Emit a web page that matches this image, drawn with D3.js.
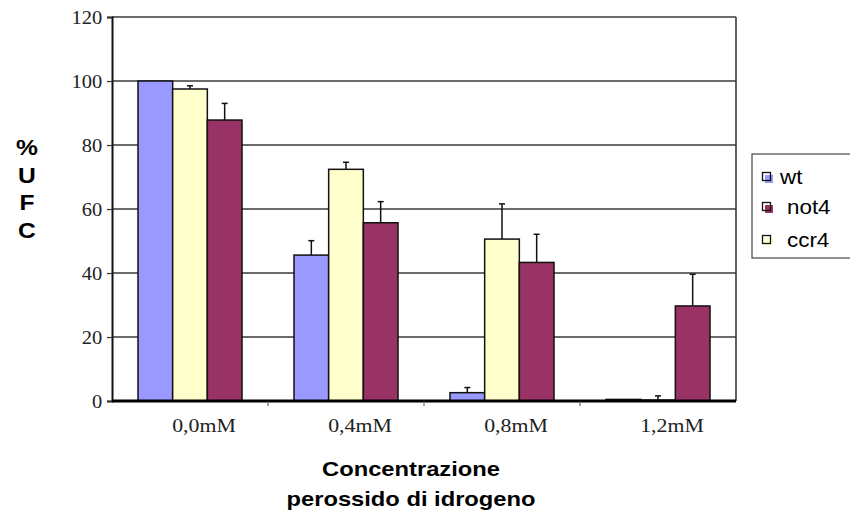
<!DOCTYPE html>
<html>
<head>
<meta charset="utf-8">
<script src="https://cdn.jsdelivr.net/npm/d3@7/dist/d3.min.js"></script>
<style>
  html, body { margin: 0; padding: 0; background: #fff; }
  svg { display: block; }
</style>
</head>
<body>
<svg id="chart" width="850" height="525"></svg>
<script>
// ---- data ----
const categories = ["0,0mM", "0,4mM", "0,8mM", "1,2mM"];
const seriesNames = ["wt", "ccr4", "not4"];          // bar order within a group
const legendOrder = ["wt", "not4", "ccr4"];          // legend order
const wtValues   = [100, 45.6, 2.6, 0.5];
const wtErrors   = [0,   4.5,  1.6, 0];
const ccr4Values = [97.5, 72.4, 50.6, 0.3];
const ccr4Errors = [1.0,  2.2,  11.0, 1.3];
const not4Values = [87.8, 55.7, 43.3, 29.7];
const not4Errors = [5.2,  6.6,  8.8,  9.9];
const yTicks = [0, 20, 40, 60, 80, 100, 120];
const yLabelLetters = ["%", "U", "F", "C"];
const xTitleLines = ["Concentrazione", "perossido di idrogeno"];

const colors = { wt: "#9999ff", not4: "#993366", ccr4: "#ffffcc" };
const valuesBySeries = { wt: wtValues, ccr4: ccr4Values, not4: not4Values };
const errorsBySeries = { wt: wtErrors, ccr4: ccr4Errors, not4: not4Errors };

// ---- layout ----
const svg = d3.select("#chart");
const plot = { left: 112, right: 736, top: 17, bottom: 401 };

const x0 = d3.scaleBand().domain(categories)
  .range([plot.left, plot.right]).paddingInner(1/3).paddingOuter(1/6);
const x1 = d3.scaleBand().domain(seriesNames).range([0, x0.bandwidth()]);
const y = d3.scaleLinear().domain([0, 120]).range([plot.bottom, plot.top]);

// gridlines
svg.append("g").selectAll("line").data(yTicks.filter(d => d > 0)).join("line")
  .attr("x1", plot.left).attr("x2", plot.right)
  .attr("y1", d => y(d)).attr("y2", d => y(d))
  .attr("stroke", "#3a3a3a").attr("stroke-width", 1.6);

// right border
svg.append("line").attr("x1", plot.right).attr("x2", plot.right)
  .attr("y1", y(120)).attr("y2", y(0))
  .attr("stroke", "#3a3a3a").attr("stroke-width", 1.6);

// bars
const rows = [];
categories.forEach((c, i) => seriesNames.forEach(s => rows.push({
  cat: c, s, v: valuesBySeries[s][i], e: errorsBySeries[s][i]
})));

const gBars = svg.append("g");
gBars.selectAll("rect").data(rows).join("rect")
  .attr("x", d => x0(d.cat) + x1(d.s))
  .attr("y", d => y(d.v))
  .attr("width", x1.bandwidth())
  .attr("height", d => y(0) - y(d.v))
  .attr("fill", d => colors[d.s])
  .attr("stroke", "#111").attr("stroke-width", 1.5);

// error bars (upper only)
const errRows = rows.filter(d => d.e > 0);
const gErr = svg.append("g").attr("stroke", "#111").attr("stroke-width", 1.5);
gErr.selectAll("line.v").data(errRows).join("line").attr("class", "v")
  .attr("x1", d => x0(d.cat) + x1(d.s) + x1.bandwidth() / 2)
  .attr("x2", d => x0(d.cat) + x1(d.s) + x1.bandwidth() / 2)
  .attr("y1", d => y(d.v)).attr("y2", d => y(d.v + d.e));
gErr.selectAll("line.c").data(errRows).join("line").attr("class", "c")
  .attr("x1", d => x0(d.cat) + x1(d.s) + x1.bandwidth() / 2 - 3)
  .attr("x2", d => x0(d.cat) + x1(d.s) + x1.bandwidth() / 2 + 3)
  .attr("y1", d => y(d.v + d.e)).attr("y2", d => y(d.v + d.e));

// y axis
const yAxis = d3.axisLeft(y).tickValues(yTicks).tickSize(5).tickPadding(4);
const gy = svg.append("g").attr("transform", `translate(${plot.left},0)`).call(yAxis);
gy.select(".domain").attr("stroke", "#111").attr("stroke-width", 2);
gy.selectAll(".tick line").attr("stroke", "#333").attr("stroke-width", 1.2);
gy.selectAll(".tick text")
  .attr("font-family", "'Liberation Serif', 'Times New Roman', serif")
  .attr("font-size", 19).attr("fill", "#222")
  .attr("transform", "scale(1.08,1)")
  .attr("dy", "0.35em");

// x baseline
svg.append("line").attr("x1", plot.left).attr("x2", plot.right)
  .attr("y1", y(0)).attr("y2", y(0))
  .attr("stroke", "#000").attr("stroke-width", 3);

// x ticks at category boundaries
const boundaries = categories.slice(0, -1).map(c =>
  x0(c) + x0.bandwidth() + x0.step() * x0.paddingInner() / 2);
svg.append("g").selectAll("line").data(boundaries).join("line")
  .attr("x1", d => d).attr("x2", d => d)
  .attr("y1", y(0)).attr("y2", y(0) + 5)
  .attr("stroke", "#555").attr("stroke-width", 1);

// x labels
svg.append("g").selectAll("text").data(categories).join("text")
  .attr("transform", c => `translate(${x0(c) + x0.bandwidth() / 2 + 14},432) scale(1.15,1)`)
  .attr("text-anchor", "middle")
  .attr("font-family", "'Liberation Serif', 'Times New Roman', serif")
  .attr("font-size", 19).attr("fill", "#222")
  .text(c => c);

// x title
svg.append("g").selectAll("text").data(xTitleLines).join("text")
  .attr("transform", (d, i) => `translate(411,${476 + i * 30}) scale(1.13,1)`)
  .attr("text-anchor", "middle")
  .attr("font-family", "'Liberation Sans', Arial, sans-serif")
  .attr("font-weight", "bold").attr("font-size", 21).attr("fill", "#000")
  .text(d => d);

// y title (stacked letters)
svg.append("g").selectAll("text").data(yLabelLetters).join("text")
  .attr("transform", (d, i) => `translate(27,${155 + i * 27.5}) scale(1.12,1)`)
  .attr("text-anchor", "middle")
  .attr("font-family", "'Liberation Sans', Arial, sans-serif")
  .attr("font-weight", "bold").attr("font-size", 22).attr("fill", "#000")
  .text(d => d);

// legend
const lg = svg.append("g");
lg.append("rect").attr("x", 752).attr("y", 154).attr("width", 110).attr("height", 104)
  .attr("fill", "#fff").attr("stroke", "#444").attr("stroke-width", 1.2);
const legendRows = [
  { s: "wt", base: 184, tx: 780 },
  { s: "not4", base: 214, tx: 787 },
  { s: "ccr4", base: 247, tx: 787 }
];
const li = lg.selectAll("g.item").data(legendOrder.map(s => legendRows.find(r => r.s === s)))
  .join("g").attr("class", "item");
li.append("rect")
  .attr("x", 765).attr("y", d => d.base - 9)
  .attr("width", 8).attr("height", 8)
  .attr("fill", d => colors[d.s]);
li.append("rect")
  .attr("x", 762.5).attr("y", d => d.base - 11.5)
  .attr("width", 8).attr("height", 8)
  .attr("fill", "none").attr("stroke", "#111").attr("stroke-width", 1.3);
li.append("text")
  .attr("transform", d => `translate(${d.tx},${d.base}) scale(1.12,1)`)
  .attr("font-family", "'Liberation Sans', Arial, sans-serif")
  .attr("font-size", 20).attr("fill", "#000")
  .text(d => d.s);
</script>
</body>
</html>
